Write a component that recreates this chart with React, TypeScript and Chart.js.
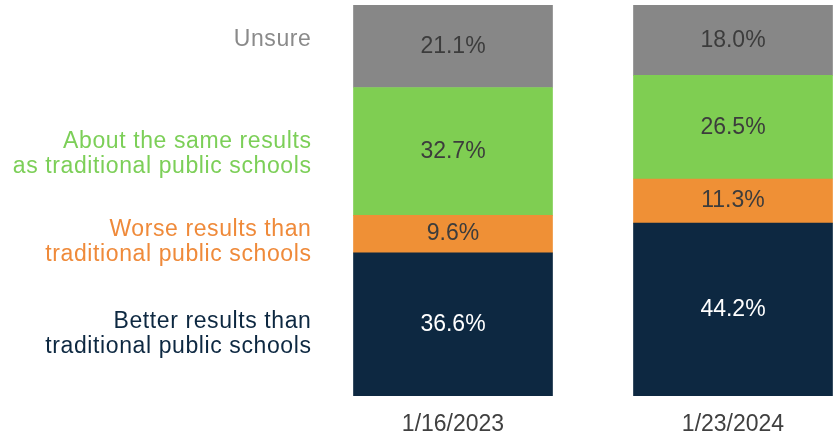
import React, { useEffect, useRef } from "react";
import { Chart, registerables } from "chart.js";

Chart.register(...registerables);

const dates = ["1/16/2023", "1/23/2024"];
const better = [36.6, 44.2];
const worse = [9.6, 11.3];
const same = [32.7, 26.5];
const unsure = [21.1, 18.0];

const seriesNames = ["Better", "Worse", "Same", "Unsure"];
const sideLabels = [
  ["Better results than", "traditional public schools"],
  ["Worse results than", "traditional public schools"],
  ["About the same results", "as traditional public schools"],
  ["Unsure"],
];
const barColors = ["#0d2841", "#ef9036", "#7fce52", "#878787"];
const sideColors = ["#0d2841", "#ef8a3a", "#7ccf58", "#8a8a8a"];
const valueColors = ["#ffffff", "#3c3c3c", "#3c3c3c", "#3c3c3c"];
const sideOffsets = [10, 8, 3, -7];

const FONT = "'Liberation Sans', Arial, sans-serif";

const labelPlugin = {
  id: "labelPlugin",
  afterDatasetsDraw(chart: any) {
    const ctx = chart.ctx;
    ctx.save();
    chart.data.datasets.forEach((ds: any, i: number) => {
      const meta = chart.getDatasetMeta(i);
      meta.data.forEach((el: any, j: number) => {
        const cy = (el.y + el.base) / 2;
        ctx.font = `23px ${FONT}`;
        ctx.fillStyle = valueColors[i];
        ctx.textAlign = "center";
        ctx.textBaseline = "middle";
        const v = ds.data[j].y;
        ctx.fillText(v.toFixed(1) + "%", el.x, cy);
        if (j === 0) {
          const lines = sideLabels[i];
          const rx = el.x - el.width / 2 - 42;
          const lh = 25;
          const startY = cy + sideOffsets[i] - ((lines.length - 1) * lh) / 2;
          ctx.textAlign = "right";
          ctx.fillStyle = sideColors[i];
          (ctx as any).letterSpacing = "0.6px";
          lines.forEach((ln, k) => ctx.fillText(ln, rx, startY + k * lh));
          (ctx as any).letterSpacing = "0px";
        }
      });
    });
    ctx.restore();
  },
};

export default function App() {
  const ref = useRef<HTMLCanvasElement>(null);
  useEffect(() => {
    if (!ref.current) return;
    const series = [better, worse, same, unsure];
    const chart = new Chart(ref.current, {
      type: "bar",
      data: {
        datasets: series.map((arr, i) => ({
          label: seriesNames[i],
          data: arr.map((v, j) => ({ x: j, y: v })),
          backgroundColor: barColors[i],
          borderWidth: 0,
          barThickness: 199,
        })),
      },
      options: {
        animation: false,
        responsive: true,
        maintainAspectRatio: false,
        layout: { padding: { top: 5, left: 0, right: 0, bottom: 0 } },
        plugins: { legend: { display: false }, tooltip: { enabled: false } },
        scales: {
          x: {
            type: "linear",
            stacked: true,
            offset: false,
            bounds: "data",
            grace: 0,
            min: -453 / 280,
            max: -453 / 280 + 833 / 280,
            grid: { display: false, drawTicks: false, offset: false },
            border: { display: false },
            afterBuildTicks: (axis: any) => {
              axis.ticks = dates.map((_, i) => ({ value: i }));
            },
            afterFit: (axis: any) => {
              axis.height = 41;
            },
            ticks: {
              autoSkip: false,
              maxRotation: 0,
              padding: 15,
              color: "#404040",
              font: { family: FONT, size: 23 },
              callback: (value: any) => dates[Math.round(Number(value))] ?? "",
            },
          },
          y: {
            stacked: true,
            display: false,
            min: 0,
            max: 100,
          },
        },
      },
      plugins: [labelPlugin],
    });
    return () => chart.destroy();
  }, []);
  return (
    <div style={{ position: "absolute", left: 0, top: 0, width: 833, height: 437 }}>
      <canvas ref={ref} />
    </div>
  );
}
